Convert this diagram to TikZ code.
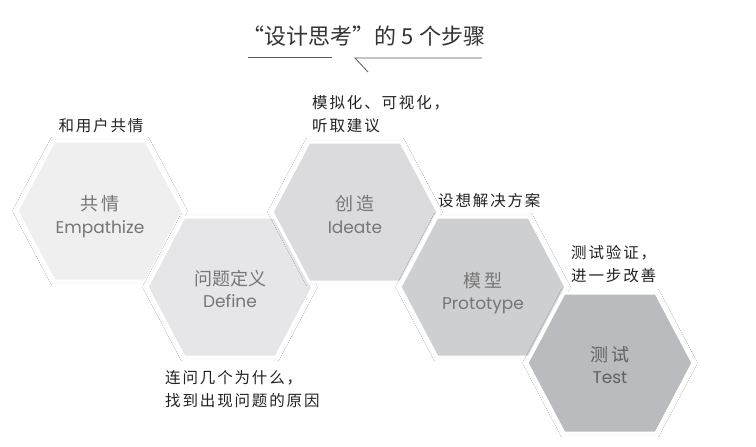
\documentclass[tikz,border=0pt]{standalone}
\usepackage{fontspec}
\newfontfamily\cjk{Noto Sans CJK SC}
\newfontfamily\cjknote{Noto Sans CJK SC}[LetterSpace=12]
\newfontfamily\lat{Poppins}
\usetikzlibrary{shadows.blur}
\definecolor{hA}{HTML}{EFEFF0}
\definecolor{hB}{HTML}{E6E6E8}
\definecolor{hC}{HTML}{DBDBDD}
\definecolor{hD}{HTML}{CECFD1}
\definecolor{hE}{HTML}{BABBBE}
\definecolor{intext}{HTML}{767676}
\definecolor{lbl}{HTML}{222222}
\begin{document}
\begin{tikzpicture}[x=1pt,y=-1pt,
  hex/.style={draw=white, line width=3pt, line join=miter,
    blur shadow={shadow xshift=0pt, shadow yshift=0pt, shadow scale=1.03, shadow blur steps=10, shadow opacity=4}},
  cntext/.style={font=\cjk\fontsize{18}{20}\selectfont, text=intext, inner sep=0pt, anchor=base},
  entext/.style={font=\lat\fontsize{17}{19}\selectfont, text=intext, inner sep=0pt, anchor=base},
  note/.style={font=\cjknote\fontsize{15.5}{23}\selectfont, text=lbl, inner sep=0pt, align=left, anchor=north west},
  rule/.style={draw=black!65, line width=0.8pt}]
\useasboundingbox (0,0) rectangle (756,447);
\fill[white] (0,0) rectangle (756,447);
% title
\node[font=\cjk\fontsize{22}{24}\selectfont, text=black!80, inner sep=0pt, anchor=base] (title) at (364,45) {“设计思考”的 5 个步骤};
\coordinate (l1) at (248,57); \coordinate (l2) at (332,57);
\coordinate (r1) at (355,58); \coordinate (r2) at (482,58);
\coordinate (tk) at (368,72);
\draw[rule] (l1) -- (l2);
\draw[rule] (r2) -- (r1) -- (tk);
% hexagons
\path[hex, fill=hA, shift={(100,211)}] (-83,0) -- (-46,-70) -- (46,-70) -- (83,0) -- (46,70) -- (-46,70) -- cycle;
\path[hex, fill=hB, shift={(230,287)}] (-83,0) -- (-46,-70) -- (46,-70) -- (83,0) -- (46,70) -- (-46,70) -- cycle;
\path[hex, fill=hC, shift={(355,212)}] (-83,0) -- (-46,-70) -- (46,-70) -- (83,0) -- (46,70) -- (-46,70) -- cycle;
\path[hex, fill=hD, shift={(483,287)}] (-83,0) -- (-46,-70) -- (46,-70) -- (83,0) -- (46,70) -- (-46,70) -- cycle;
\path[hex, fill=hE, shift={(610,363)}] (-83,0) -- (-46,-70) -- (46,-70) -- (83,0) -- (46,70) -- (-46,70) -- cycle;
% hex texts
\node[cntext] (cA) at (100,210) {共\hspace{4pt}情};
\node[entext] (eA) at (100,233) {Empathize};
\node[cntext] (cB) at (230,285) {问题定义};
\node[entext] (eB) at (230,307) {Define};
\node[cntext] (cC) at (355,210) {创\hspace{4pt}造};
\node[entext] (eC) at (355,233) {Ideate};
\node[cntext] (cD) at (483,287) {模\hspace{4pt}型};
\node[entext] (eD) at (483,309) {Prototype};
\node[cntext, text=black!62] (cE) at (610,361) {测\hspace{4pt}试};
\node[entext, text=black!62] (eE) at (610,383) {Test};
% notes
\node[note, anchor=north] (nA) at (101,118) {和用户共情};
\node[note] (nC) at (312,95) {模拟化、可视化，\\听取建议};
\node[note] (nD) at (438,193) {设想解决方案};
\node[note] (nE) at (571,245) {测试验证，\\进一步改善};
\node[note] (nB) at (165,370) {连问几个为什么，\\找到出现问题的原因};
\end{tikzpicture}
\end{document}
